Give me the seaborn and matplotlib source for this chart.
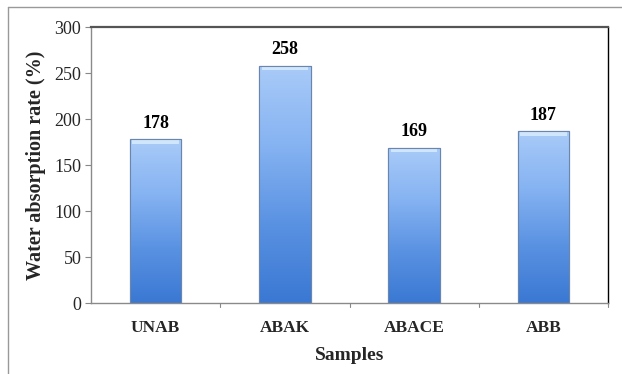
import numpy as np
import pandas as pd
import matplotlib
matplotlib.use("Agg")
import matplotlib.pyplot as plt
from matplotlib.colors import LinearSegmentedColormap
import seaborn as sns

samples = ["UNAB", "ABAK", "ABACE", "ABB"]
absorption = [178, 258, 169, 187]
y_ticks = [0, 50, 100, 150, 200, 250, 300]

df = pd.DataFrame({"Samples": samples, "Absorption": absorption})

sns.set_style("white")
plt.rcParams["font.family"] = ["Liberation Serif", "DejaVu Serif"]

fig = plt.figure(figsize=(6.22, 3.74), dpi=100)
ax = fig.add_axes([0.1463, 0.1898, 0.8312, 0.738])

sns.barplot(data=df, x="Samples", y="Absorption", ax=ax, width=0.4,
            color="#6fa3ea", edgecolor="#5a7fb0", linewidth=0.8, zorder=2)

ax.set_ylim(0, 300)
ax.set_xlim(-0.5, len(samples) - 0.5)

# vertical gradient fill for each bar, plus a light bevel at the top
grad = LinearSegmentedColormap.from_list(
    "bar", ["#3a78d3", "#5a92e2", "#86b3f2", "#a9cbf8"])
for patch in ax.patches:
    x0, y0 = patch.get_x(), patch.get_y()
    w, h = patch.get_width(), patch.get_height()
    g = np.linspace(0, 1, 256).reshape(-1, 1)
    im = ax.imshow(g, cmap=grad, origin="lower", aspect="auto",
                   extent=[x0, x0 + w, y0, y0 + h], zorder=2.5)
    im.set_clip_path(patch)
    ax.fill_between([x0 + 0.02, x0 + w - 0.02], y0 + h - 5, y0 + h - 0.5,
                    color="#d8ecfd", alpha=0.85, zorder=2.6, linewidth=0)
    ax.add_patch(plt.Rectangle((x0, y0), w, h, fill=False,
                               edgecolor="#6a86ad", linewidth=0.8, zorder=2.7))

for i, v in enumerate(absorption):
    ax.text(i, v + 8, f"{v}", ha="center", va="bottom",
            fontsize=13, fontweight="bold", color="black")

ax.set_yticks(y_ticks)
ax.set_yticklabels([str(t) for t in y_ticks], fontsize=13)
ax.set_xticks(range(len(samples)))
ax.set_xticklabels(samples, fontsize=12.5, fontweight="bold")
ax.tick_params(axis="x", length=0, pad=12)
ax.tick_params(axis="y", length=4, width=0.8, color="#888888", pad=3,
               left=True, direction="out")

# category boundary ticks below the x axis
for b in np.arange(0.5, len(samples) + 0.5, 1.0):
    ax.plot([b, b], [0, -4], color="#888888", linewidth=0.8,
            clip_on=False, zorder=3)

ax.set_xlabel("Samples", fontsize=14, fontweight="bold", labelpad=8)
ax.set_ylabel("Water absorption rate (%)", fontsize=14.5, fontweight="bold",
              labelpad=6)

for side in ["left", "bottom"]:
    ax.spines[side].set_color("#8a8a8a")
    ax.spines[side].set_linewidth(1.0)
ax.spines["top"].set_color("#555555")
ax.spines["top"].set_linewidth(1.6)
ax.spines["right"].set_color("black")
ax.spines["right"].set_linewidth(1.0)
for s in ax.spines.values():
    s.set_visible(True)

# outer chart frame
fig.add_artist(plt.Line2D([8 / 622, 1.0], [1 - 7 / 374, 1 - 7 / 374],
                          color="#999999", linewidth=1.0,
                          transform=fig.transFigure))
fig.add_artist(plt.Line2D([8 / 622, 8 / 622], [0.0, 1 - 7 / 374],
                          color="#999999", linewidth=1.0,
                          transform=fig.transFigure))

fig.savefig("out.png", dpi=100)
